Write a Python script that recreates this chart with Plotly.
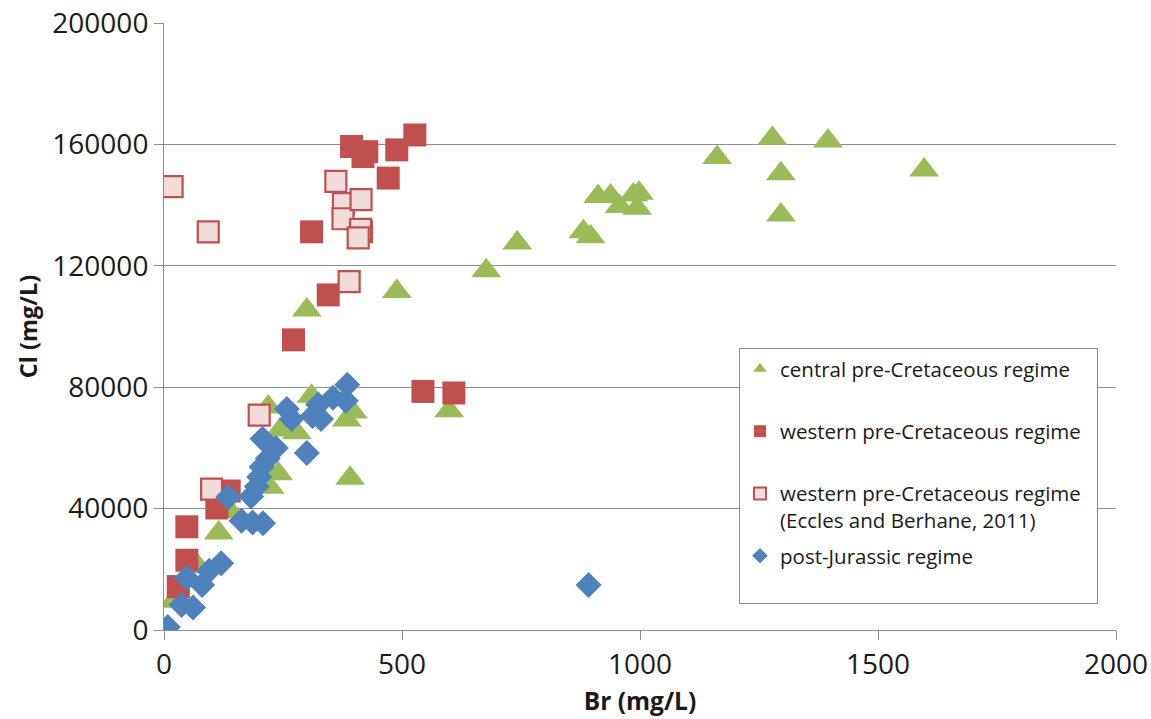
import plotly.graph_objects as go

# ---- data ----
central_br = [1597, 1395, 1278, 1162, 1296, 1296, 912, 938, 957, 986, 998, 994,
              881, 896, 742, 677, 489, 300, 599, 310, 219, 279, 384, 397, 391,
              240, 222, 244, 115, 140, 72, 20]
central_cl = [151600, 161100, 162000, 155700, 150300, 136700, 142800, 143000, 139500, 143300, 143900, 139000,
              131200, 129600, 127500, 118400, 111500, 105400, 72200, 77000, 73500, 65000, 69200, 71800, 50000,
              51500, 47000, 65900, 32000, 39000, 20800, 9500]

western_br = [527, 394, 426, 418, 489, 471, 310, 345, 272, 544, 609, 48, 48, 30, 111, 137, 415]
western_cl = [163100, 159300, 157600, 156000, 158200, 148900, 131200, 110400, 95600, 78600, 78100,
              34000, 23000, 14300, 40200, 45800, 131200]

eccles_br = [17, 93, 361, 377, 376, 414, 413, 408, 389, 200, 100]
eccles_cl = [146100, 131200, 147800, 140500, 135500, 141800, 132000, 129200, 114800, 70800, 46400]

post_br = [8, 37, 61, 48, 80, 95, 120, 163, 186, 208, 135, 183, 195, 200, 205, 218, 235, 207,
           258, 268, 300, 312, 330, 324, 355, 382, 385, 892]
post_cl = [1000, 8200, 7400, 17100, 14800, 19500, 22000, 36000, 35400, 35200, 43800, 44000, 47300, 50400,
           53700, 56500, 60000, 63000, 72800, 69500, 58300, 70500, 69500, 74300, 76500, 75500, 80800, 14800]

x_ticks = [0, 500, 1000, 1500, 2000]
y_ticks = [0, 40000, 80000, 120000, 160000, 200000]

GREEN = "#9BBB59"
RED = "#C0504D"
PINK = "#F2DCDB"
BLUE = "#4F81BD"
FONT = "Open Sans"
TXT = "#1a1a1a"
GRID = "#8c8c8c"
PADR = "\u00a0\u00a0"

fig = go.Figure()
fig.add_trace(go.Scatter(x=central_br, y=central_cl, mode="markers", legendgroup="g1",
                         name="central pre-Cretaceous regime<br> ",
                         marker=dict(symbol="triangle-up", size=26, color=GREEN, line=dict(width=0))))
fig.add_trace(go.Scatter(x=western_br, y=western_cl, mode="markers", legendgroup="g2",
                         name="western pre-Cretaceous regime" + PADR + "<br> ",
                         marker=dict(symbol="square", size=23, color=RED, line=dict(width=0))))
fig.add_trace(go.Scatter(x=eccles_br, y=eccles_cl, mode="markers", legendgroup="g3",
                         name="western pre-Cretaceous regime" + PADR + "<br>(Eccles and Berhane, 2011)",
                         marker=dict(symbol="square", size=21, color=PINK, line=dict(width=2.2, color=RED))))
fig.add_trace(go.Scatter(x=post_br, y=post_cl, mode="markers", legendgroup="g4",
                         name="post-Jurassic regime<br> ",
                         marker=dict(symbol="diamond", size=20, color=BLUE, line=dict(width=0))))

fig.update_layout(
    width=1151, height=719,
    margin=dict(l=164, r=35, t=23, b=89, pad=0, autoexpand=False),
    paper_bgcolor="white", plot_bgcolor="white",
    font=dict(family=FONT, color=TXT),
    showlegend=True,
    legend=dict(x=0.604, y=0.4645, xanchor="left", yanchor="top",
                bordercolor=GRID, borderwidth=1, bgcolor="white",
                font=dict(family=FONT, size=20.5, color=TXT),
                itemsizing="constant", valign="top", tracegroupgap=6),
    xaxis=dict(range=[0, 2000], tickvals=x_ticks, ticktext=[str(v) for v in x_ticks],
               automargin=False,
               showgrid=False, zeroline=False, showline=True, linecolor=GRID, linewidth=1,
               ticks="outside", ticklen=9, tickcolor=GRID, ticklabeloverflow="allow",
               tickfont=dict(family=FONT, size=28, color=TXT),
               title=dict(text="<b>Br (mg/L)</b>", font=dict(family=FONT, size=24.5, color=TXT), standoff=12)),
    yaxis=dict(range=[0, 200000], tickvals=y_ticks, ticktext=[str(v) for v in y_ticks],
               automargin=False,
               showgrid=True, gridcolor=GRID, gridwidth=1, zeroline=False,
               showline=True, linecolor=GRID, linewidth=1,
               ticks="outside", ticklen=9, tickcolor=GRID, ticklabeloverflow="allow",
               tickfont=dict(family=FONT, size=28, color=TXT),
               title=dict(text="<b>Cl (mg/L)</b>", font=dict(family=FONT, size=23.5, color=TXT), standoff=8)),
)

fig.write_html("out.html")
